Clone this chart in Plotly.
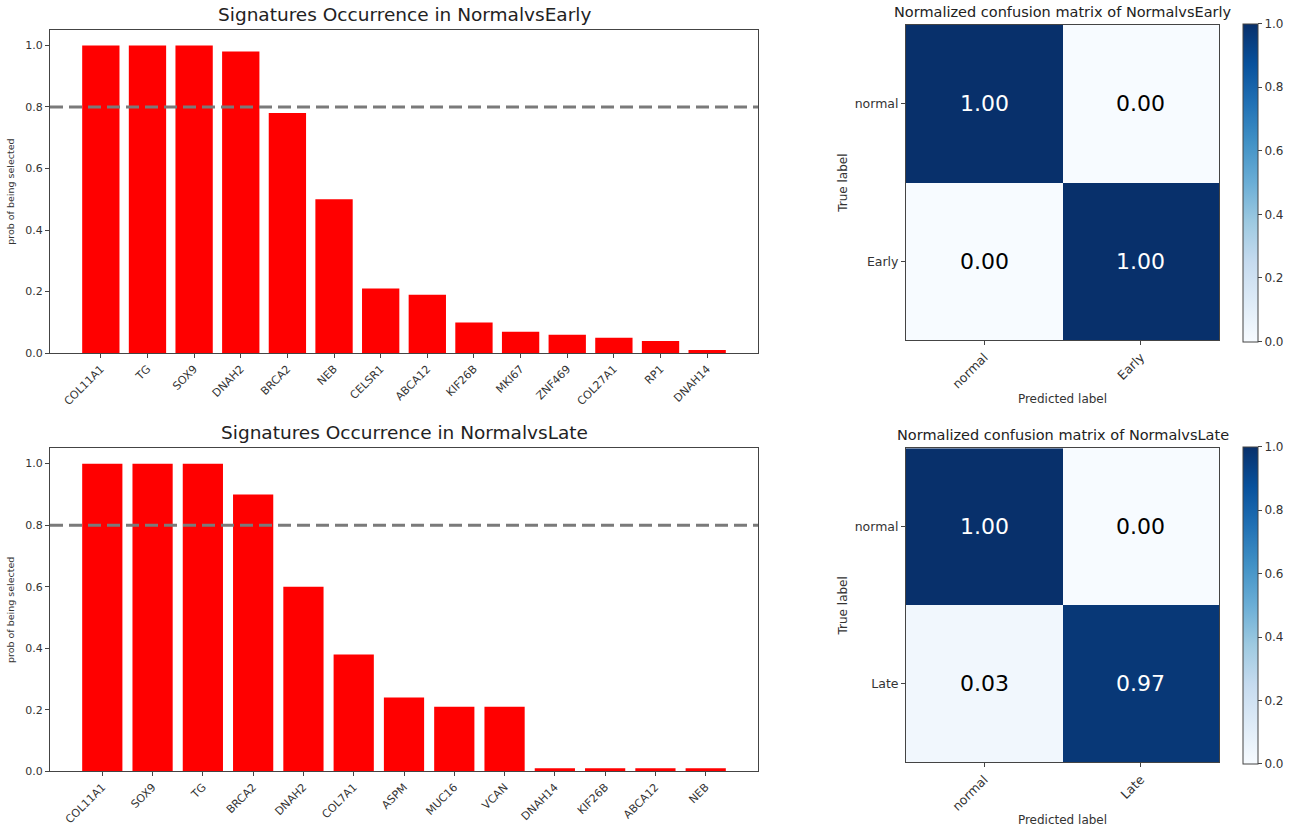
import plotly.graph_objects as go

W, H = 1297, 827

early_genes = ["COL11A1", "TG", "SOX9", "DNAH2", "BRCA2", "NEB", "CELSR1", "ABCA12",
               "KIF26B", "MKI67", "ZNF469", "COL27A1", "RP1", "DNAH14"]
early_probs = [1.0, 1.0, 1.0, 0.98, 0.78, 0.50, 0.21, 0.19, 0.10, 0.07, 0.06, 0.05, 0.04, 0.01]

late_genes = ["COL11A1", "SOX9", "TG", "BRCA2", "DNAH2", "COL7A1", "ASPM", "MUC16",
              "VCAN", "DNAH14", "KIF26B", "ABCA12", "NEB"]
late_probs = [1.0, 1.0, 1.0, 0.90, 0.60, 0.38, 0.24, 0.21, 0.21, 0.01, 0.01, 0.01, 0.01]

THRESHOLD = 0.8

cm_labels_early = ["normal", "Early"]
cm_early = [[1.00, 0.00], [0.00, 1.00]]
cm_labels_late = ["normal", "Late"]
cm_late = [[1.00, 0.00], [0.03, 0.97]]

blues = [[0.0, "#f7fbff"], [0.125, "#deebf7"], [0.25, "#c6dbef"], [0.375, "#9ecae1"],
         [0.5, "#6baed6"], [0.625, "#4292c6"], [0.75, "#2171b5"], [0.875, "#08519c"],
         [1.0, "#08306b"]]

FONT = "DejaVu Sans"
TXT = "#333333"
LINE = "#444444"
YS = 1 / 0.991

def px_x(p):
    return p / W

def px_y(p):
    return max(0.0, min(1.0, 1 - p * YS / H))

fig = go.Figure()
layout = dict(
    width=W, height=H, margin=dict(l=0, r=0, t=0, b=0),
    paper_bgcolor="white", plot_bgcolor="white",
    font=dict(family=FONT, color=TXT, size=10),
    showlegend=False,
)
annotations = []
shapes = []

bar_panels = [
    ("x", "y", early_genes, early_probs, "Signatures Occurrence in NormalvsEarly", 30, 353),
    ("x2", "y2", late_genes, late_probs, "Signatures Occurrence in NormalvsLate", 448, 771),
]
for xa, ya, genes, probs, title, top, bot in bar_panels:
    n = len(genes)
    fig.add_trace(go.Bar(x=list(range(n)), y=probs, width=0.8, marker=dict(color="#ff0000", line=dict(width=0)),
                         xaxis=xa, yaxis=ya))
    span = (n - 1) + 0.8
    pad = span * 0.05
    xkey = "xaxis" if xa == "x" else "xaxis" + xa[1:]
    ykey = "yaxis" if ya == "y" else "yaxis" + ya[1:]
    layout[xkey] = dict(domain=[px_x(50), px_x(758)], anchor=ya,
                        range=[-0.4 - pad, (n - 1) + 0.4 + pad],
                        tickmode="array", tickvals=list(range(n)), ticktext=genes,
                        tickangle=-45, ticks="outside", ticklen=4, tickcolor=LINE,
                        showline=True, mirror=True, linecolor=LINE, linewidth=1,
                        showgrid=False, zeroline=False, tickfont=dict(size=11, color=TXT))
    layout[ykey] = dict(domain=[px_y(bot), px_y(top)], anchor=xa,
                        range=[0, 1.05], tickmode="array", tickvals=[0, 0.2, 0.4, 0.6, 0.8, 1.0],
                        ticktext=["0.0", "0.2", "0.4", "0.6", "0.8", "1.0"],
                        ticks="outside", ticklen=4, tickcolor=LINE,
                        showline=True, mirror=True, linecolor=LINE, linewidth=1,
                        showgrid=False, zeroline=False, tickfont=dict(size=11, color=TXT),
                        title=dict(text="prob of being selected", font=dict(size=9.5, color=TXT), standoff=8))
    shapes.append(dict(type="line", xref=xa + " domain", yref=ya, x0=0, x1=1,
                       y0=THRESHOLD, y1=THRESHOLD, line=dict(color="#7a7a7a", width=3, dash="13px,6px")))
    annotations.append(dict(text=title, xref="paper", yref="paper",
                            x=px_x(404), y=px_y(top - 3), xanchor="center", yanchor="bottom",
                            showarrow=False, font=dict(size=18.5, color="#222222")))

cm_panels = [
    ("x3", "y3", cm_labels_early, cm_early, "Normalized confusion matrix of NormalvsEarly", 25, 340),
    ("x4", "y4", cm_labels_late, cm_late, "Normalized confusion matrix of NormalvsLate", 448, 762),
]
for xa, ya, labs, cm, title, top, bot in cm_panels:
    fig.add_trace(go.Heatmap(z=cm, x=[0, 1], y=[0, 1], colorscale=blues, zmin=0, zmax=1,
                             xaxis=xa, yaxis=ya, hoverinfo="skip",
                             colorbar=dict(x=px_x(1243), xanchor="left", xref="paper", xpad=0, ypad=0,
                                           y=(px_y(top) + px_y(bot)) / 2, yanchor="middle",
                                           len=(bot - top) * YS, lenmode="pixels",
                                           thickness=15, thicknessmode="pixels",
                                           outlinewidth=1, outlinecolor=LINE,
                                           ticks="outside", ticklen=4, tickcolor=LINE,
                                           tickvals=[0, 0.2, 0.4, 0.6, 0.8, 1.0],
                                           ticktext=["0.0", "0.2", "0.4", "0.6", "0.8", "1.0"],
                                           tickfont=dict(size=12, color=TXT))))
    xkey = "xaxis" + xa[1:]
    ykey = "yaxis" + ya[1:]
    layout[xkey] = dict(domain=[px_x(906), px_x(1219)], anchor=ya, range=[-0.5, 1.5],
                        tickmode="array", tickvals=[0, 1], ticktext=labs, tickangle=-45,
                        ticks="outside", ticklen=4, tickcolor=LINE,
                        showline=True, mirror=True, linecolor=LINE, linewidth=1,
                        showgrid=False, zeroline=False, tickfont=dict(size=12.5, color=TXT),
                        title=dict(text="Predicted label", font=dict(size=12, color=TXT), standoff=4))
    layout[ykey] = dict(domain=[px_y(bot), px_y(top)], anchor=xa, range=[1.5, -0.5],
                        tickmode="array", tickvals=[0, 1], ticktext=labs,
                        ticks="outside", ticklen=4, tickcolor=LINE,
                        showline=True, mirror=True, linecolor=LINE, linewidth=1,
                        showgrid=False, zeroline=False, tickfont=dict(size=12.5, color=TXT),
                        title=dict(text="True label", font=dict(size=12, color=TXT), standoff=4))
    for i in range(2):
        for j in range(2):
            v = cm[i][j]
            annotations.append(dict(text=f"{v:.2f}", xref=xa, yref=ya, x=j, y=i,
                                    showarrow=False,
                                    font=dict(size=22, color="white" if v > 0.5 else "black")))
    annotations.append(dict(text=title, xref="paper", yref="paper",
                            x=px_x(1063), y=px_y(top - 3), xanchor="center", yanchor="bottom",
                            showarrow=False, font=dict(size=14.5, color="#222222")))

layout["annotations"] = annotations
layout["shapes"] = shapes
fig.update_layout(**layout)
fig.write_html("out.html", config={"displayModeBar": False},
               post_script="document.body.style.margin='0';document.body.style.overflow='hidden';")
